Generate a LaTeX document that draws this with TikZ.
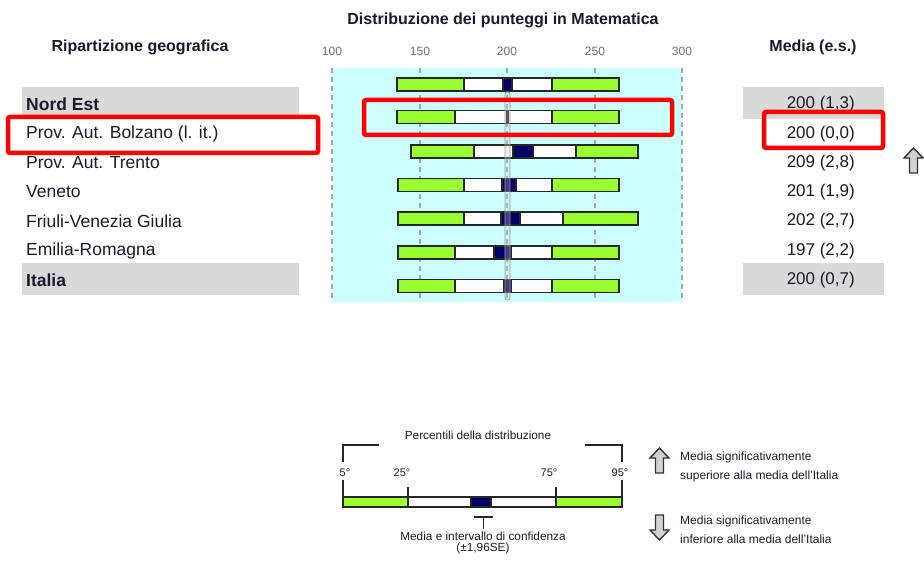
\documentclass[tikz,border=0pt]{standalone}
\usepackage{fontspec}
\setmainfont{Liberation Sans}
\definecolor{bgcyan}{HTML}{CCFFFF}
\definecolor{barg}{HTML}{99FF33}
\definecolor{navy}{HTML}{000066}
\definecolor{bandgray}{HTML}{D9D9D9}
\definecolor{tickgray}{HTML}{707070}
\definecolor{txt}{HTML}{1A1A2E}
\tikzset{
  barline/.style={draw=black!85, line width=1.1pt},
  grid/.style={draw=gray!70, line width=1.2pt, dash pattern=on 5pt off 4pt},
  redbox/.style={draw=red, line width=4.5pt, rounded corners=2pt},
  rowlabel/.style={anchor=west, inner sep=0pt, text=txt, font=\fontsize{17.5}{19}\selectfont},
  rowlabelb/.style={rowlabel, font=\fontsize{17.5}{19}\selectfont\bfseries},
  value/.style={anchor=east, inner sep=0pt, text=txt, font=\fontsize{17}{19}\selectfont},
  header/.style={inner sep=0pt, text=txt, font=\fontsize{16}{18}\selectfont\bfseries},
  tick/.style={inner sep=0pt, text=tickgray, font=\fontsize{12}{14}\selectfont},
  legtxt/.style={inner sep=0pt, text=txt, font=\fontsize{11.8}{13}\selectfont},
  perctxt/.style={inner sep=0pt, text=txt, font=\fontsize{11}{13}\selectfont},
  legsig/.style={anchor=west, inner sep=0pt, text=txt, font=\fontsize{12}{14}\selectfont, align=left},
  band/.style={fill=bandgray, draw=none},
  bigarrow/.style={fill=gray!35, draw=gray!40!black, line width=1.4pt, line join=miter},
  legline/.style={draw=black!85, line width=1.1pt}
}
\newcommand\scorebar[7]{%
  \draw[barline, fill=barg]  (#2,#1-6.5) rectangle (#3,#1+6.5);
  \draw[barline, fill=white] (#3,#1-6.5) rectangle (#4,#1+6.5);
  \draw[barline, fill=white] (#5,#1-6.5) rectangle (#6,#1+6.5);
  \draw[barline, fill=navy]  (#4,#1-6.5) rectangle (#5,#1+6.5);
  \draw[barline, fill=barg]  (#6,#1-6.5) rectangle (#7,#1+6.5);
}
\begin{document}
\begin{tikzpicture}[x=1pt, y=-1pt]
\useasboundingbox (0,0) rectangle (924,561);
\fill[white] (0,0) rectangle (924,561);

% headers
\node[header] (title) at (503,20) {Distribuzione dei punteggi in Matematica};
\node[header] (hgeo) at (140,47) {Ripartizione geografica};
\node[header] (hmedia) at (813,47) {Media (e.s.)};

% tick labels
\node[tick] (t100) at (332,51) {100};
\node[tick] (t150) at (420,51) {150};
\node[tick] (t200) at (507,51) {200};
\node[tick] (t250) at (595,51) {250};
\node[tick] (t300) at (682,51) {300};

% gray bands
\fill[band] (22,87) rectangle (299,118);
\fill[band] (22,263) rectangle (299,295);
\fill[band] (743,87) rectangle (884,119);
\fill[band] (743,263) rectangle (884,295);

% plot background
\fill[bgcyan] (332,68) rectangle (683,302);
\foreach \xx in {332,420,507,595,682}{
  \draw[grid] (\xx,68) -- (\xx,302);
}

% bars
\scorebar{84.5}{397}{464}{503}{512}{552}{619}
\scorebar{117}{397}{455}{506.5}{508}{552}{619}
\scorebar{151.5}{411}{474}{513}{533}{576}{638}
\scorebar{185}{398}{464}{502}{516}{552}{619}
\scorebar{218.5}{398}{464}{501}{520}{563}{638}
\scorebar{252.5}{398}{455}{494}{511}{552}{619}
\scorebar{286}{398}{455}{504}{511}{552}{619}

% Italy CI band
\draw[draw=gray!80, fill=gray!40, fill opacity=0.3, line width=0.8pt, rounded corners=2pt] (505,92) rectangle (510,300);

% row labels
\node[rowlabelb] (ne) at (26,104) {Nord Est};
\node[rowlabel] (bz) at (26,134) {Prov. Aut. Bolzano (l. it.)};
\node[rowlabel] (tn) at (26,163) {Prov. Aut. Trento};
\node[rowlabel] (ve) at (26,192) {Veneto};
\node[rowlabel] (fvg) at (26,221) {Friuli-Venezia Giulia};
\node[rowlabel] (er) at (26,251) {Emilia-Romagna};
\node[rowlabelb] (it) at (26,280) {Italia};

% values
\node[value] (vne) at (855,104) {200 (1,3)};
\node[value] (vbz) at (855,134) {200 (0,0)};
\node[value] (vtn) at (855,163) {209 (2,8)};
\node[value] (vve) at (855,192) {201 (1,9)};
\node[value] (vfvg) at (855,221) {202 (2,7)};
\node[value] (ver) at (855,251) {197 (2,2)};
\node[value] (vit) at (855,280) {200 (0,7)};

% significance arrow for Trento
\draw[bigarrow] (913.5,148) -- (923,158) -- (917.5,158) -- (917.5,173) -- (909.5,173) -- (909.5,158) -- (904,158) -- cycle;

% red highlight boxes
\draw[redbox] (8,117) rectangle (318,153);
\draw[redbox] (364,100) rectangle (672,135);
\draw[redbox] (764,112) rectangle (883,148);

% ---- legend ----
\node[legtxt] (perc) at (478,435) {Percentili della distribuzione};
\draw[legline] (343,462) -- (343,445) -- (379,445);
\draw[legline] (585,445) -- (622,445) -- (622,462);
\node[perctxt] (p5) at (345,473) {5°};
\node[perctxt] (p25) at (402,473) {25°};
\node[perctxt] (p75) at (549,473) {75°};
\node[perctxt] (p95) at (620,473) {95°};
\draw[legline] (343,480) -- (343,502);
\draw[legline] (408,487) -- (408,502);
\draw[legline] (556,487) -- (556,502);
\draw[legline] (622,480) -- (622,502);
\draw[barline, fill=barg]  (343,497) rectangle (408,507);
\draw[barline, fill=white] (408,497) rectangle (471,507);
\draw[barline, fill=white] (491,497) rectangle (556,507);
\draw[barline, fill=navy]  (471,497) rectangle (491,507);
\draw[barline, fill=barg]  (556,497) rectangle (622,507);
\coordinate (tl) at (474,517);
\coordinate (tr) at (493,517);
\coordinate (tm) at (483.5,517);
\coordinate (tb) at (483.5,529);
\draw[legline] (tl) -- (tr);
\draw[legline] (tm) -- (tb);
\node[legtxt] (ci1) at (483,536) {Media e intervallo di confidenza};
\node[legtxt] (ci2) at (483,548) {(±1,96SE)};

% legend arrows
\draw[bigarrow] (659.5,448) -- (669,458) -- (663.5,458) -- (663.5,473) -- (655.5,473) -- (655.5,458) -- (650,458) -- cycle;
\draw[bigarrow] (659.5,540) -- (669,530) -- (663.5,530) -- (663.5,515) -- (655.5,515) -- (655.5,530) -- (650,530) -- cycle;
\node[legsig] (sup1) at (680,457) {Media significativamente};
\node[legsig] (sup2) at (680,476) {superiore alla media dell'Italia};
\node[legsig] (inf1) at (680,521) {Media significativamente};
\node[legsig] (inf2) at (680,539) {inferiore alla media dell'Italia};
\end{tikzpicture}
\end{document}
